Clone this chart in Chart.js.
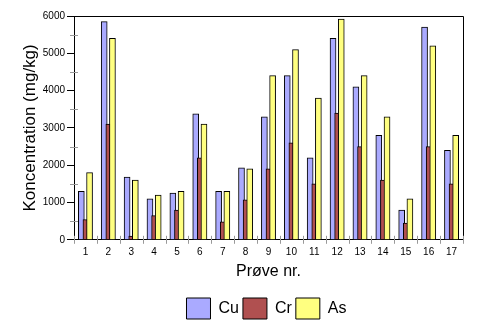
<!DOCTYPE html>
<html>
<head>
<meta charset="utf-8">
<script src="https://cdn.jsdelivr.net/npm/chart.js@4"></script>
<style>
  html, body { margin: 0; padding: 0; background: #fff; }
  #wrap { width: 490px; height: 328px; }
</style>
</head>
<body>
<div id="wrap"><canvas id="c" width="490" height="328"></canvas></div>
<script>
/* Koncentration af Cu, Cr og As pr. prøve (mg/kg) */
var samples = [1, 2, 3, 4, 5, 6, 7, 8, 9, 10, 11, 12, 13, 14, 15, 16, 17];
var cu = [1300, 5850, 1680, 1100, 1250, 3380, 1300, 1930, 3300, 4400, 2200, 5400, 4100, 2800, 800, 5700, 2400];
var cr = [540, 3100, 100, 650, 800, 2200, 480, 1070, 1900, 2600, 1500, 3400, 2500, 1600, 450, 2500, 1500];
var as = [1800, 5400, 1600, 1200, 1300, 3100, 1300, 1900, 4400, 5100, 3800, 5920, 4400, 3300, 1100, 5200, 2800];
var yTicks = [0, 1000, 2000, 3000, 4000, 5000, 6000];

var FONT = '"Liberation Sans", Arial, sans-serif';

function points(vals, shift) {
  return vals.map(function (v, i) { return { x: samples[i] + shift, y: v }; });
}

// nudge the legend right/down like the original (it sits under the plot, not the page)
var legendShift = {
  id: 'legendShift',
  afterLayout: function (chart) {
    var L = chart.legend;
    if (!L) { return; }
    L.left += 35; L.right += 35;
    L.top += 7; L.bottom += 7;
  }
};

// frame on top/right, minor y ticks and category boundary ticks
var extras = {
  id: 'extras',
  afterDraw: function (chart) {
    var ctx = chart.ctx, a = chart.chartArea;
    var xs = chart.scales.x, ys = chart.scales.y;
    ctx.save();
    ctx.strokeStyle = '#000';
    ctx.lineWidth = 1;
    ctx.beginPath();
    ctx.moveTo(a.left, a.top + 0.5);
    ctx.lineTo(a.right + 0.5, a.top + 0.5);
    ctx.lineTo(a.right + 0.5, a.bottom);
    ctx.stroke();
    ctx.strokeStyle = '#999';
    ctx.beginPath();
    for (var k = 0; k < yTicks.length - 1; k++) {
      var py = Math.round(ys.getPixelForValue(yTicks[k] + 500)) + 0.5;
      ctx.moveTo(a.left - 4, py);
      ctx.lineTo(a.left + 4, py);
    }
    for (var i = 0; i <= samples.length; i++) {
      var px = Math.round(xs.getPixelForValue(i + 0.5)) + 0.5;
      ctx.moveTo(px, a.bottom - 4);
      ctx.lineTo(px, a.bottom + 4);
    }
    ctx.stroke();
    ctx.restore();
  }
};

new Chart(document.getElementById('c'), {
  type: 'bar',
  data: {
    datasets: [
      { label: 'Cu', data: points(cu, -0.18), backgroundColor: '#aaaaff', borderColor: '#000', borderWidth: 1, barThickness: 6, grouped: false, order: 3 },
      { label: 'Cr', data: points(cr, 0), backgroundColor: '#b05050', borderColor: '#000', borderWidth: 1, barThickness: 5, grouped: false, order: 2 },
      { label: 'As', data: points(as, 0.18), backgroundColor: '#ffff80', borderColor: '#000', borderWidth: 1, barThickness: 6, grouped: false, order: 1 }
    ]
  },
  options: {
    responsive: false,
    animation: false,
    layout: { padding: { top: 16, right: 27, left: 0, bottom: 6 } },
    plugins: {
      tooltip: { enabled: false },
      legend: {
        position: 'bottom',
        labels: {
          boxWidth: 24, boxHeight: 21, padding: 4, color: '#000',
          font: { family: FONT, size: 16 },
          generateLabels: function (chart) {
            return chart.data.datasets.map(function (d, i) {
              return { text: d.label, fillStyle: d.backgroundColor, strokeStyle: '#000', lineWidth: 1, datasetIndex: i, fontColor: '#000' };
            });
          }
        }
      }
    },
    scales: {
      x: {
        type: 'linear', min: 0.5, max: 17.5, offset: false,
        afterBuildTicks: function (s) { s.ticks = samples.map(function (v) { return { value: v }; }); },
        afterFit: function (s) { s.height -= 4; },
        grid: { display: false, drawTicks: false },
        border: { display: true, color: '#000' },
        ticks: { color: '#000', padding: 6, font: { family: FONT, size: 10 }, maxRotation: 0, autoSkip: false,
          callback: function (v) { return String(v); } },
        title: { display: true, text: 'Prøve nr.', color: '#000', font: { family: FONT, size: 16 }, padding: { top: 2, bottom: 6 } }
      },
      y: {
        min: 0, max: 6000,
        afterBuildTicks: function (s) { s.ticks = yTicks.map(function (v) { return { value: v }; }); },
        afterFit: function (s) { s.width = 74; },
        grid: { display: true, drawOnChartArea: false, drawTicks: true, tickLength: 7, color: '#000' },
        border: { display: true, color: '#000' },
        ticks: { color: '#000', padding: 2, font: { family: FONT, size: 10 }, callback: function (v) { return String(v); } },
        title: { display: true, text: 'Koncentration (mg/kg)', color: '#000', font: { family: FONT, size: 17 }, padding: { top: 20, bottom: 0 } }
      }
    }
  },
  plugins: [legendShift, extras]
});
</script>
</body>
</html>
